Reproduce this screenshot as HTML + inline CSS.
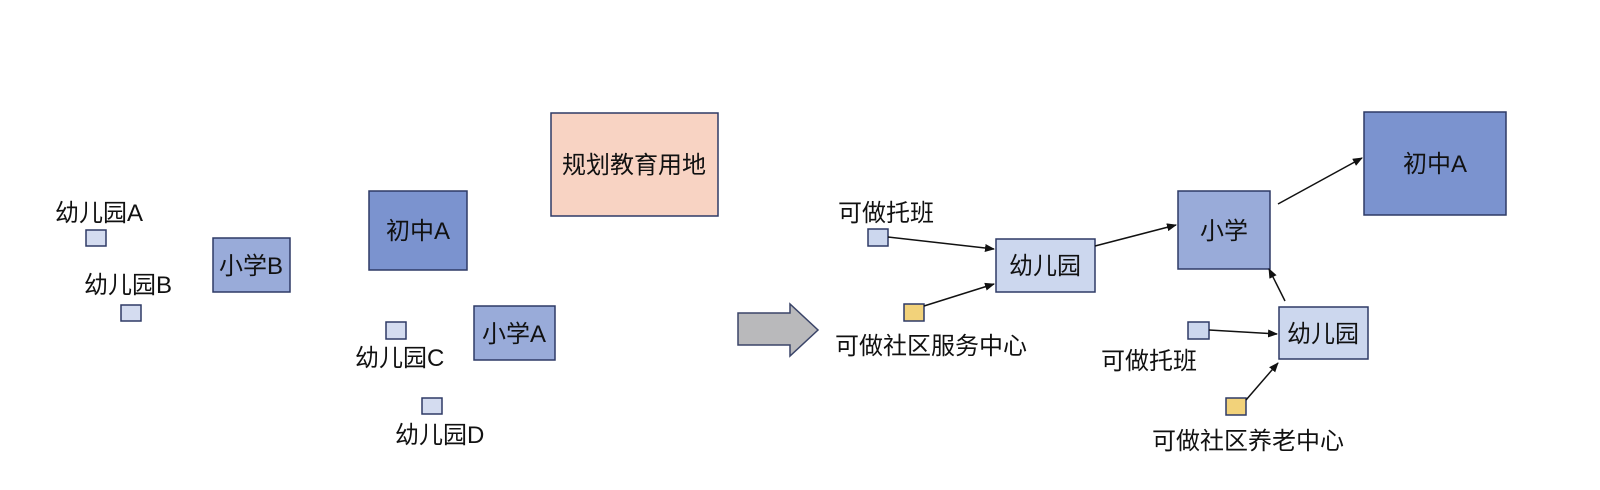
<!DOCTYPE html>
<html><head><meta charset="utf-8"><style>
body{margin:0;width:1600px;height:485px;background:#fff;overflow:hidden;font-family:"Liberation Sans","Noto Sans CJK SC",sans-serif}
</style></head><body>
<svg width="1600" height="485" xmlns="http://www.w3.org/2000/svg" font-family="Liberation Sans, Noto Sans CJK SC, sans-serif" font-size="24" fill="#111">
<defs><marker id="a" markerWidth="10" markerHeight="8" refX="9" refY="4" orient="auto" markerUnits="userSpaceOnUse"><path d="M0,0 L10,4 L0,8 z" fill="#111"/></marker></defs>
<g stroke="#2e3a66" stroke-width="1.5">
<rect x="551" y="113" width="167" height="103" fill="#f8d3c3"/>
<rect x="369" y="191" width="98" height="79" fill="#7b93cf"/>
<rect x="213" y="238" width="77" height="54" fill="#99abd9"/>
<rect x="474" y="306" width="81" height="54" fill="#99abd9"/>
<rect x="86" y="230" width="20" height="16" fill="#d4dcf0"/>
<rect x="121" y="305" width="20" height="16" fill="#d4dcf0"/>
<rect x="386" y="322" width="20" height="17" fill="#d4dcf0"/>
<rect x="422" y="398" width="20" height="16" fill="#d4dcf0"/>
<rect x="1364" y="112" width="142" height="103" fill="#7b93cf"/>
<rect x="1178" y="191" width="92" height="78" fill="#99abd9"/>
<rect x="996" y="239" width="99" height="53" fill="#ccd7ee"/>
<rect x="1279" y="307" width="89" height="52" fill="#ccd7ee"/>
<rect x="868" y="229" width="20" height="17" fill="#ccd7ee"/>
<rect x="1188" y="322" width="21" height="17" fill="#ccd7ee"/>
<rect x="904" y="304" width="20" height="17" fill="#f2d27a"/>
<rect x="1226" y="398" width="20" height="17" fill="#f2d27a"/>
</g>
<path d="M738,313 H790 V304 L818,330 L790,356 V345 H738 z" fill="#b9b9bb" stroke="#3a4468" stroke-width="1.5"/>
<g stroke="#111" stroke-width="1.5" marker-end="url(#a)">
<line x1="888" y1="237" x2="994" y2="249"/>
<line x1="924" y1="306" x2="994" y2="284"/>
<line x1="1095" y1="246" x2="1176" y2="225"/>
<line x1="1278" y1="204" x2="1362" y2="158"/>
<line x1="1209" y1="330" x2="1277" y2="334"/>
<line x1="1285" y1="301" x2="1269" y2="269"/>
<line x1="1246" y1="400" x2="1278" y2="363"/>
</g>
<text x="634" y="173" text-anchor="middle">规划教育用地</text>
<text x="418" y="239" text-anchor="middle">初中A</text>
<text x="251" y="274" text-anchor="middle">小学B</text>
<text x="514" y="342" text-anchor="middle">小学A</text>
<text x="55" y="221">幼儿园A</text>
<text x="84" y="293">幼儿园B</text>
<text x="355" y="366">幼儿园C</text>
<text x="395" y="443">幼儿园D</text>
<text x="1435" y="172" text-anchor="middle">初中A</text>
<text x="1224" y="239" text-anchor="middle">小学</text>
<text x="1045" y="274" text-anchor="middle">幼儿园</text>
<text x="1323" y="342" text-anchor="middle">幼儿园</text>
<text x="838" y="221">可做托班</text>
<text x="835" y="354">可做社区服务中心</text>
<text x="1101" y="369">可做托班</text>
<text x="1152" y="449">可做社区养老中心</text>
</svg>
</body></html>
